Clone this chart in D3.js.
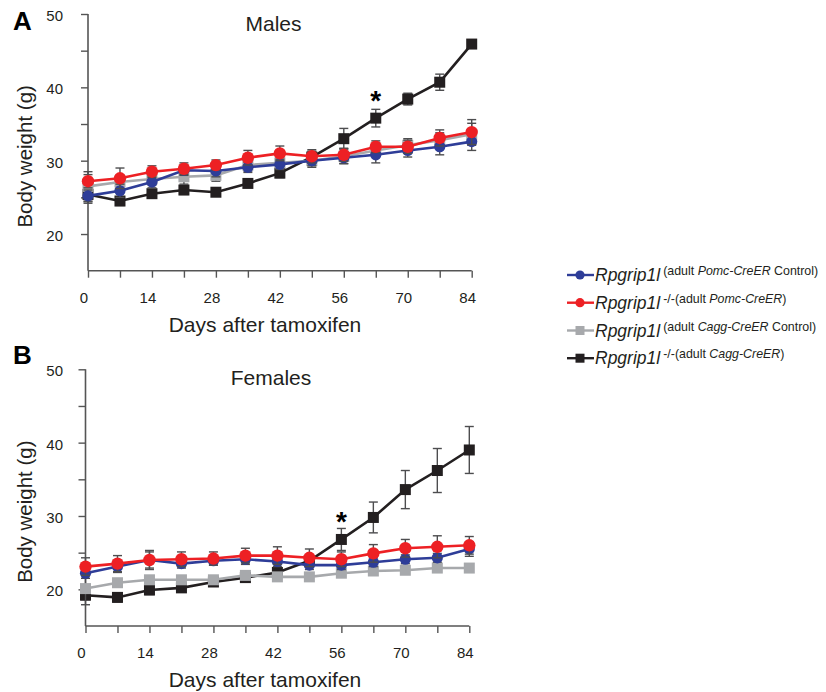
<!DOCTYPE html>
<html>
<head>
<meta charset="utf-8">
<script src="https://cdn.jsdelivr.net/npm/d3@7"></script>
<style>
  body { margin: 0; background: #fff; }
  svg { display: block; font-family: "Liberation Sans", Arial, Helvetica, sans-serif; }
</style>
</head>
<body>
<svg id="chart" width="826" height="692"></svg>
<script>
// ---------- DATA ----------
const days = [0, 7, 14, 21, 28, 35, 42, 49, 56, 63, 70, 77, 84];
const xTickLabels = [0, 14, 28, 42, 56, 70, 84];
const yTickLabels = [20, 30, 40, 50];

// Males
const maleBlue  = [25.2, 25.9, 27.1, 28.7, 28.6, 29.1, 29.5, 30.0, 30.4, 30.8, 31.4, 31.9, 32.6];
const maleRed   = [27.2, 27.6, 28.5, 28.9, 29.4, 30.4, 31.0, 30.6, 30.8, 31.9, 31.9, 33.1, 33.9];
const maleGray  = [26.5, 27.1, 27.5, 27.8, 28.0, 29.4, 29.7, 30.0, 30.6, 31.4, 32.1, 32.8, 33.6];
const maleBlack = [25.4, 24.5, 25.5, 26.0, 25.7, 26.9, 28.3, 30.5, 33.0, 35.8, 38.4, 40.7, 45.9];
const maleBlueErr  = [0.8, 0.9, 0.8, 0.7, 0.8, 0.7, 0.7, 0.7, 0.8, 1.1, 0.9, 1.1, 1.2];
const maleRedErr   = [0.9, 1.4, 0.8, 0.8, 0.7, 1.0, 1.0, 0.9, 0.9, 0.8, 0.9, 1.1, 1.7];
const maleGrayErr  = [2.0, 0.9, 0.8, 1.0, 0.8, 0.8, 0.8, 0.9, 1.0, 0.8, 0.9, 1.0, 1.5];
const maleBlackErr = [1.2, 0.6, 0.5, 0.6, 0.5, 0.5, 0.6, 0.8, 1.4, 1.2, 0.8, 1.1, 0.4];

// Females
const femBlue  = [22.2, 23.1, 24.0, 23.5, 23.9, 24.1, 23.8, 23.3, 23.3, 23.7, 24.1, 24.3, 25.5];
const femRed   = [23.1, 23.5, 24.0, 24.1, 24.2, 24.6, 24.6, 24.3, 24.1, 24.9, 25.6, 25.8, 26.0];
const femGray  = [20.1, 20.9, 21.3, 21.3, 21.3, 21.9, 21.7, 21.7, 22.2, 22.5, 22.6, 22.9, 22.9];
const femBlack = [19.2, 18.9, 19.9, 20.2, 21.0, 21.6, 22.3, 23.9, 26.8, 29.8, 33.6, 36.2, 39.0];
const femBlueErr  = [0.7, 0.8, 1.1, 0.6, 0.6, 0.7, 0.7, 0.6, 0.6, 0.6, 0.6, 0.6, 1.0];
const femRedErr   = [1.2, 1.1, 1.3, 1.0, 0.9, 1.0, 1.2, 1.2, 1.0, 1.2, 1.2, 1.5, 1.2];
const femGrayErr  = [2.2, 0.5, 0.5, 0.5, 0.5, 0.6, 0.5, 0.5, 0.5, 0.5, 0.5, 0.5, 0.5];
const femBlackErr = [0.6, 0.6, 0.6, 0.5, 0.5, 0.5, 0.6, 0.8, 1.5, 2.1, 2.6, 3.0, 3.2];

const seriesNames = ["blue", "red", "gray", "black"];
const legendMain = "Rpgrip1l";
const legendSup = [
  [["(adult ", false], ["Pomc-CreER", true], [" Control)", false]],
  [["-/-(adult ", false], ["Pomc-CreER", true], [")", false]],
  [["(adult ", false], ["Cagg-CreER", true], [" Control)", false]],
  [["-/-(adult ", false], ["Cagg-CreER", true], [")", false]]
];

// ---------- STYLES ----------
const colors = { blue: "#2e3d98", red: "#ed2024", gray: "#a7a9ac", black: "#231f20" };
const shapes = { blue: "circle", red: "circle", gray: "square", black: "square" };
const drawOrder = ["black", "gray", "blue", "red"];

const svg = d3.select("#chart");
svg.append("rect").attr("width", 826).attr("height", 692).attr("fill", "#fff");

function drawPanel(cfg) {
  const g = svg.append("g");
  const x = d3.scaleLinear().domain([0, 84]).range([cfg.x0, cfg.x1]);
  const y = d3.scaleLinear().domain([15, 50]).range([cfg.yBottom, cfg.yTop]);

  // axes
  const xAxis = d3.axisBottom(x).tickValues(days).tickSize(7).tickFormat("");
  const yAxis = d3.axisLeft(y).tickValues([20, 25, 30, 35, 40, 45, 50]).tickSize(7).tickFormat("");
  const gx = g.append("g").attr("transform", `translate(0,${cfg.yBottom})`).call(xAxis);
  const gy = g.append("g").attr("transform", `translate(${cfg.x0},0)`).call(yAxis);
  [gx, gy].forEach(a => {
    a.select(".domain").attr("stroke", "#555").attr("stroke-width", 1.6).attr("d",
      a === gx ? `M${cfg.x0},0H${cfg.x1}` : `M0,${cfg.yTop}V${cfg.yBottom}`);
    a.selectAll(".tick line").attr("stroke", "#555").attr("stroke-width", 1.4);
  });

  // tick labels
  g.selectAll(".xl").data(xTickLabels).enter().append("text")
    .attr("x", d => x(d) - 4).attr("y", cfg.yBottom + 32)
    .attr("text-anchor", "middle").attr("font-size", 15).attr("fill", "#231f20")
    .text(d => d);
  g.selectAll(".yl").data(yTickLabels).enter().append("text")
    .attr("x", 63).attr("y", d => y(d) + 7)
    .attr("text-anchor", "end").attr("font-size", 15).attr("fill", "#231f20")
    .text(d => d);

  // titles
  g.append("text").attr("x", 265).attr("y", cfg.yBottom + 61)
    .attr("text-anchor", "middle").attr("font-size", 21).attr("fill", "#231f20")
    .text("Days after tamoxifen");
  g.append("text").attr("transform", `translate(32,${(cfg.yTop + cfg.yBottom) / 2 + 14}) rotate(-90)`)
    .attr("text-anchor", "middle").attr("font-size", 20.5).attr("fill", "#231f20")
    .text("Body weight (g)");
  g.append("text").attr("x", cfg.titleX).attr("y", cfg.titleY)
    .attr("text-anchor", "middle").attr("font-size", 21).attr("fill", "#231f20")
    .text(cfg.title);
  g.append("text").attr("x", 13).attr("y", cfg.letterY)
    .attr("font-size", 26).attr("font-weight", 900).attr("fill", "#000")
    .text(cfg.letter);

  // series
  const line = d3.line().x((d, i) => x(days[i])).y(d => y(d));
  drawOrder.forEach(name => {
    const vals = cfg.values[name], errs = cfg.errors[name];
    const sg = g.append("g");
    // error bars
    vals.forEach((v, i) => {
      const cx = x(days[i]);
      const lo = y(v - errs[i]), hi = y(v + errs[i]);
      sg.append("line").attr("x1", cx).attr("x2", cx).attr("y1", lo).attr("y2", hi)
        .attr("stroke", "#4d4d4f").attr("stroke-width", 1.4);
      [lo, hi].forEach(yy => sg.append("line").attr("x1", cx - 4.5).attr("x2", cx + 4.5)
        .attr("y1", yy).attr("y2", yy).attr("stroke", "#4d4d4f").attr("stroke-width", 1.4));
    });
    sg.append("path").datum(vals).attr("d", line).attr("fill", "none")
      .attr("stroke", colors[name]).attr("stroke-width", 2.6);
    if (shapes[name] === "circle") {
      sg.selectAll("circle").data(vals).enter().append("circle")
        .attr("cx", (d, i) => x(days[i])).attr("cy", d => y(d))
        .attr("r", name === "red" ? 6.2 : 5.6).attr("fill", colors[name]);
    } else {
      const s = 11;
      sg.selectAll("rect.m").data(vals).enter().append("rect")
        .attr("x", (d, i) => x(days[i]) - s / 2).attr("y", d => y(d) - s / 2)
        .attr("width", s).attr("height", s).attr("fill", colors[name]);
    }
  });

  // significance asterisk
  g.append("text").attr("x", x(cfg.starDay)).attr("y", y(cfg.starVal))
    .attr("text-anchor", "middle").attr("font-size", 28).attr("font-weight", "bold")
    .attr("fill", "#000").text("*");
}

drawPanel({
  x0: 88, x1: 471.7, yTop: 14, yBottom: 270.7,
  title: "Males", titleX: 273.5, titleY: 31, letter: "A", letterY: 30,
  values: { blue: maleBlue, red: maleRed, gray: maleGray, black: maleBlack },
  errors: { blue: maleBlueErr, red: maleRedErr, gray: maleGrayErr, black: maleBlackErr },
  starDay: 63, starVal: 36.9
});
drawPanel({
  x0: 85.5, x1: 469.3, yTop: 369.3, yBottom: 626,
  title: "Females", titleX: 271, titleY: 385, letter: "B", letterY: 364,
  values: { blue: femBlue, red: femRed, gray: femGray, black: femBlack },
  errors: { blue: femBlueErr, red: femRedErr, gray: femGrayErr, black: femBlackErr },
  starDay: 56, starVal: 27.9
});

// ---------- LEGEND ----------
const legendY = [275, 302.7, 330.5, 358.2];
const lg = svg.append("g");
seriesNames.forEach((name, i) => {
  const yy = legendY[i];
  lg.append("line").attr("x1", 567).attr("x2", 594).attr("y1", yy).attr("y2", yy)
    .attr("stroke", colors[name]).attr("stroke-width", 2.4);
  if (shapes[name] === "circle") {
    lg.append("circle").attr("cx", 580).attr("cy", yy).attr("r", 4.6).attr("fill", colors[name]);
  } else {
    lg.append("rect").attr("x", 575.5).attr("y", yy - 4.5).attr("width", 9).attr("height", 9).attr("fill", colors[name]);
  }
  const t = lg.append("text").attr("x", 595).attr("y", yy + 6).attr("fill", "#231f20");
  t.append("tspan").attr("font-size", 17.5).attr("font-style", "italic").text(legendMain);
  const sup = legendSup[i];
  sup.forEach((part, j) => {
    const ts = t.append("tspan").attr("font-size", 12.4)
      .attr("font-style", part[1] ? "italic" : "normal").text(part[0]);
    if (j === 0) ts.attr("dx", 3).attr("dy", -6);
  });
});
</script>
</body>
</html>
